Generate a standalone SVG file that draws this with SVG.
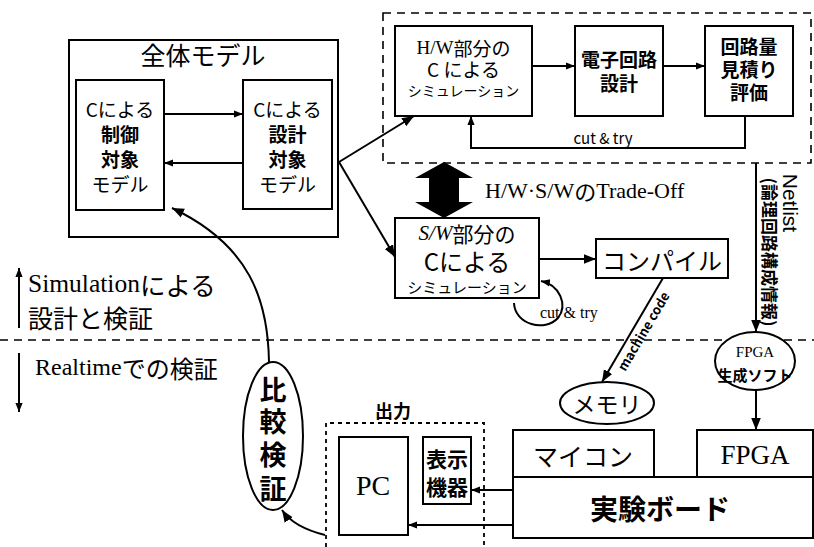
<svg xmlns="http://www.w3.org/2000/svg" width="814" height="547" viewBox="0 0 814 547">
<style>
.box{fill:#fff;stroke:#000;stroke-width:2}
.ln{fill:none;stroke:#000;stroke-width:2}
.dash{fill:none;stroke:#000;stroke-width:1.6;stroke-dasharray:8 6}
.dot{fill:none;stroke:#000;stroke-width:1.8;stroke-dasharray:4 4}
.j{font-family:"Noto Sans CJK JP","Noto Sans",sans-serif;fill:#000;text-anchor:middle;dominant-baseline:central}
.st{text-anchor:start}
.b{font-weight:bold}
.s{font-family:"Liberation Serif","Noto Sans CJK JP",serif;fill:#000;dominant-baseline:central}
</style>
<defs>
<marker id="ah" viewBox="0 0 10 10" refX="10" refY="5" markerWidth="9" markerHeight="9" markerUnits="userSpaceOnUse" orient="auto">
<path d="M0,1 L10,5 L0,9 Z" fill="#000"/>
</marker>
<marker id="ahb" viewBox="0 0 10 10" refX="10" refY="5" markerWidth="12" markerHeight="12" markerUnits="userSpaceOnUse" orient="auto">
<path d="M0,1 L10,5 L0,9 Z" fill="#000"/>
</marker>
</defs>

<!-- regions -->
<g id="hw-region"><rect class="dash" x="383" y="13" width="428" height="150"/></g>
<g id="divider"><line class="dash" x1="0" y1="340" x2="814" y2="340"/></g>
<g id="output-region"><path class="dot" d="M326,547 V423 H484 V547"/><text class="j b" x="393" y="410" font-size="18">出力</text></g>

<!-- nodes -->
<g id="whole-model">
<rect class="box" x="69" y="40" width="269" height="197"/>
<text class="j" x="203" y="54" font-size="25">全体モデル</text>
</g>
<g id="control-model">
<rect class="box" x="76" y="80" width="88" height="130"/>
<text class="j" x="120" y="108" font-size="19">Cによる</text>
<text class="j b" x="120" y="133" font-size="19">制御</text>
<text class="j b" x="120" y="158" font-size="19">対象</text>
<text class="j" x="120" y="183" font-size="19">モデル</text>
</g>
<g id="design-model">
<rect class="box" x="243" y="80" width="89" height="129"/>
<text class="j" x="287.5" y="108" font-size="19">Cによる</text>
<text class="j b" x="287.5" y="133" font-size="19">設計</text>
<text class="j b" x="287.5" y="158" font-size="19">対象</text>
<text class="j" x="287.5" y="183" font-size="19">モデル</text>
</g>
<g id="hw-sim">
<rect class="box" x="395" y="26" width="137" height="90"/>
<text class="j" x="463.5" y="47" font-size="19"><tspan font-family="Liberation Serif">H/W</tspan>部分の</text>
<text class="j" x="463.5" y="68" font-size="19">C による</text>
<text class="j" x="463.5" y="90" font-size="14">シミュレーション</text>
</g>
<g id="circuit-design">
<rect class="box" x="575" y="26" width="88" height="90"/>
<text class="j b" x="619" y="58" font-size="19">電子回路</text>
<text class="j b" x="619" y="82" font-size="19">設計</text>
</g>
<g id="estimate">
<rect class="box" x="705" y="26" width="88" height="90"/>
<text class="j b" x="749" y="45" font-size="19">回路量</text>
<text class="j b" x="749" y="68" font-size="19">見積り</text>
<text class="j b" x="749" y="91" font-size="19">評価</text>
</g>
<g id="sw-sim">
<rect class="box" x="395" y="218" width="144" height="80"/>
<text class="j" x="467" y="233" font-size="21"><tspan font-family="Liberation Serif" font-style="italic">S/W</tspan>部分の</text>
<text class="j" x="467" y="260" font-size="24">Cによる</text>
<text class="j" x="467" y="286" font-size="15">シミュレーション</text>
</g>
<g id="compile">
<rect class="box" x="596" y="239" width="132" height="39"/>
<text class="j" x="662" y="259" font-size="24">コンパイル</text>
</g>
<g id="memory">
<ellipse class="box" cx="607" cy="403" rx="47" ry="21"/>
<text class="j" x="607" y="403" font-size="23">メモリ</text>
</g>
<g id="fpga-soft">
<ellipse class="box" cx="755" cy="361" rx="40" ry="29"/>
<text class="s" x="755" y="352" font-size="15" text-anchor="middle">FPGA</text>
<text class="j b" x="755" y="374" font-size="15">生成ソフト</text>
</g>
<g id="micon">
<rect class="box" x="513" y="430" width="141" height="47"/>
<text class="j" x="583" y="455" font-size="25">マイコン</text>
</g>
<g id="fpga">
<rect class="box" x="697" y="430" width="116" height="47"/>
<text class="s" x="755" y="455" font-size="27" text-anchor="middle">FPGA</text>
</g>
<g id="board">
<rect class="box" x="513" y="477" width="300" height="61"/>
<text class="j b" x="660" y="508" font-size="28">実験ボード</text>
</g>
<g id="pc">
<rect class="box" x="339" y="437" width="69" height="98"/>
<text class="s" x="373" y="485" font-size="28" text-anchor="middle">PC</text>
</g>
<g id="display">
<rect class="box" x="423" y="437" width="48" height="67"/>
<text class="j b" x="447" y="458" font-size="21">表示</text>
<text class="j b" x="447" y="486" font-size="21">機器</text>
</g>
<g id="compare">
<ellipse class="box" cx="273" cy="436" rx="30" ry="74"/>
<text class="j b" x="273" y="388" font-size="27">比</text>
<text class="j b" x="273" y="420" font-size="27">較</text>
<text class="j b" x="273" y="453" font-size="27">検</text>
<text class="j b" x="273" y="487" font-size="27">証</text>
</g>

<!-- side labels -->
<g id="side-labels">
<line class="ln" x1="19" y1="328" x2="19" y2="268" marker-end="url(#ah)"/>
<line class="ln" x1="19" y1="353" x2="19" y2="412" marker-end="url(#ah)"/>
<text class="s" x="28" y="283" font-size="25.5">Simulation<tspan font-family="Noto Sans CJK JP">による</tspan></text>
<text class="j st" x="28" y="317" font-size="25">設計と検証</text>
<text class="s" x="35" y="367" font-size="24">Realtime<tspan font-family="Noto Sans CJK JP">での検証</tspan></text>
</g>

<!-- connectors -->
<g id="connectors">
<line class="ln" x1="164" y1="114" x2="243" y2="114" marker-end="url(#ah)"/>
<line class="ln" x1="243" y1="163" x2="164" y2="163" marker-end="url(#ah)"/>
<line class="ln" x1="339" y1="162" x2="414" y2="116" marker-end="url(#ahb)"/>
<line class="ln" x1="339" y1="162" x2="395" y2="257" marker-end="url(#ahb)"/>
<line class="ln" x1="532" y1="66" x2="575" y2="66" marker-end="url(#ah)"/>
<line class="ln" x1="663" y1="66" x2="705" y2="66" marker-end="url(#ah)"/>
<path class="ln" d="M745,116 V148 H471 V116" marker-end="url(#ah)"/>
<text class="j" x="603" y="137" font-size="15">cut &amp; try</text>
<path d="M444,162 L473,178 L459,178 L459,202 L473,202 L444,218 L415,202 L429,202 L429,178 L415,178 Z" fill="#000"/>
<text class="s" x="485" y="190" font-size="22">H/W·S/W<tspan font-family="Noto Sans CJK JP">の</tspan>Trade-Off</text>
<line class="ln" x1="539" y1="259" x2="596" y2="259" marker-end="url(#ahb)"/>
<path class="ln" d="M514,303 C515,325 545,332 558,318 C568,305 560,285 541,281" marker-end="url(#ah)"/>
<text class="s" x="540" y="312" font-size="16">cut &amp; try</text>
<line class="ln" x1="663" y1="278" x2="602" y2="382" marker-end="url(#ahb)"/>
<text class="j b" font-size="13" transform="translate(643,331) rotate(-59.6)">machine code</text>
<line class="ln" x1="756" y1="163" x2="756" y2="332" marker-end="url(#ahb)"/>
<text class="j b" font-size="17" transform="translate(770,252) rotate(90)">(論理回路構成情報)</text>
<text font-family="Liberation Sans, sans-serif" font-size="21" text-anchor="middle" dominant-baseline="central" transform="translate(790,203) rotate(90)">Netlist</text>
<line class="ln" x1="756" y1="390" x2="756" y2="430" marker-end="url(#ahb)"/>
<line class="ln" x1="513" y1="490" x2="471" y2="490" marker-end="url(#ah)"/>
<line class="ln" x1="513" y1="525" x2="408" y2="525" marker-end="url(#ah)"/>
<path class="ln" d="M325,535 C305,530 290,522 282,510" marker-end="url(#ahb)"/>
<path class="ln" d="M269,362 C268,300 250,245 172,208" marker-end="url(#ahb)"/>
</g>
</svg>
